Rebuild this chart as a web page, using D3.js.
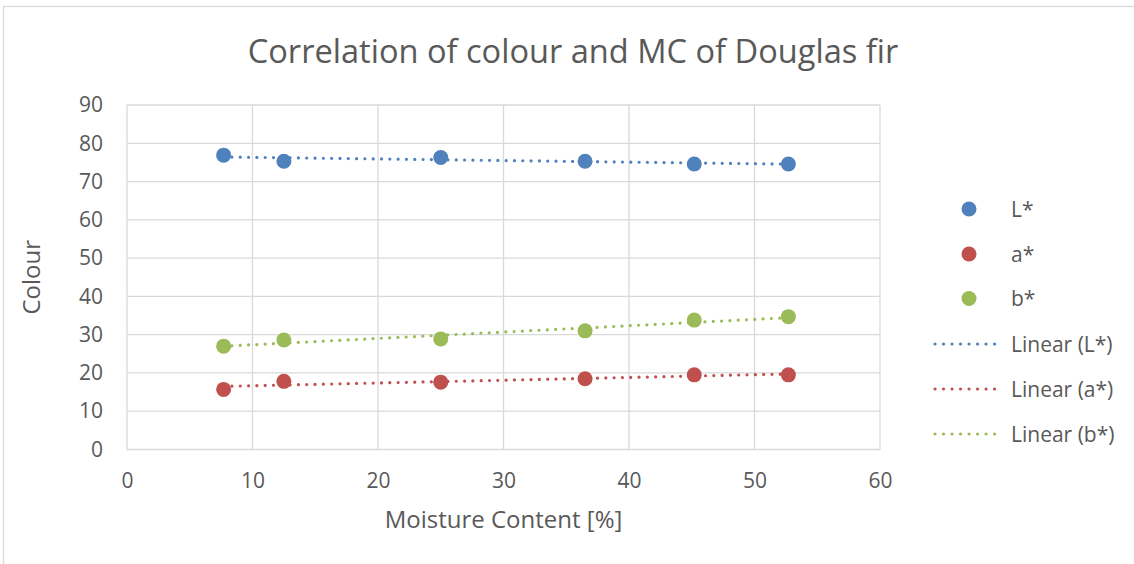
<!DOCTYPE html>
<html>
<head>
<meta charset="utf-8">
<script src="https://cdn.jsdelivr.net/npm/d3@7"></script>
<style>
  html, body { margin: 0; padding: 0; background: #fff; }
  svg { display: block; font-family: "Open Sans", Lato, sans-serif; }
</style>
</head>
<body>
<svg id="chart" width="1134" height="564"></svg>
<script>
// Moisture content [%] of each sample
const moisture = [7.7, 12.5, 25.0, 36.5, 45.2, 52.7];
// CIELAB colour coordinates per sample
const lValues = [76.9, 75.3, 76.3, 75.3, 74.6, 74.6];
const aValues = [15.7, 17.8, 17.6, 18.5, 19.5, 19.5];
const bValues = [27.0, 28.6, 28.9, 31.0, 33.8, 34.7];
const seriesNames = ["L*", "a*", "b*"];
const seriesColors = ["#4f81bd", "#c0504d", "#9bbb59"];
const xTicks = [0, 10, 20, 30, 40, 50, 60];
const yTicks = [0, 10, 20, 30, 40, 50, 60, 70, 80, 90];

const series = [lValues, aValues, bValues].map((vals, i) => ({
  name: seriesNames[i],
  color: seriesColors[i],
  points: vals.map((v, j) => ({ x: moisture[j], y: v }))
}));

const svg = d3.select("#chart");
const textColor = "#595959";
const gridColor = "#d9d9d9";
const font = "'Open Sans', Lato, sans-serif";

// chart frame
svg.append("rect")
  .attr("x", 3.5).attr("y", 6.5)
  .attr("width", 1140).attr("height", 570)
  .attr("fill", "#fff").attr("stroke", gridColor).attr("stroke-width", 1.3);

const plot = { left: 127, right: 880, top: 105, bottom: 449.5 };
const x = d3.scaleLinear().domain([0, 60]).range([plot.left, plot.right]);
const y = d3.scaleLinear().domain([0, 90]).range([plot.bottom, plot.top]);

// gridlines
const grid = svg.append("g");
grid.selectAll("line.h").data(yTicks).join("line")
  .attr("x1", plot.left).attr("x2", plot.right)
  .attr("y1", d => y(d)).attr("y2", d => y(d))
  .attr("stroke", gridColor).attr("stroke-width", 1.3);
grid.selectAll("line.v").data(xTicks).join("line")
  .attr("y1", plot.top).attr("y2", plot.bottom)
  .attr("x1", d => x(d)).attr("x2", d => x(d))
  .attr("stroke", gridColor).attr("stroke-width", 1.3);

// axes with labels only
const xAxis = svg.append("g")
  .attr("transform", `translate(0,${plot.bottom})`)
  .call(d3.axisBottom(x).tickValues(xTicks).tickSize(0).tickPadding(24));
const yAxis = svg.append("g")
  .attr("transform", `translate(${plot.left},0)`)
  .call(d3.axisLeft(y).tickValues(yTicks).tickSize(0).tickPadding(24));
[xAxis, yAxis].forEach(a => {
  a.select(".domain").remove();
  a.selectAll("text")
    .attr("fill", textColor)
    .style("font-size", "21px")
    .style("font-family", font);
});

// linear regression trend lines
function fit(pts) {
  const mx = d3.mean(pts, p => p.x), my = d3.mean(pts, p => p.y);
  const sxy = d3.sum(pts, p => (p.x - mx) * (p.y - my));
  const sxx = d3.sum(pts, p => (p.x - mx) ** 2);
  const slope = sxy / sxx;
  return { slope, intercept: my - slope * mx };
}
const line = d3.line().x(d => x(d.x)).y(d => y(d.y));
series.forEach(s => {
  const f = fit(s.points);
  const [x0, x1] = d3.extent(s.points, p => p.x);
  svg.append("path")
    .datum([{ x: x0, y: f.intercept + f.slope * x0 }, { x: x1, y: f.intercept + f.slope * x1 }])
    .attr("d", line)
    .attr("fill", "none")
    .attr("stroke", s.color)
    .attr("stroke-width", 3.2)
    .attr("stroke-linecap", "round")
    .attr("stroke-dasharray", "0.01 8.3");
});

// data markers
series.forEach(s => {
  svg.append("g").selectAll("circle").data(s.points).join("circle")
    .attr("cx", d => x(d.x)).attr("cy", d => y(d.y))
    .attr("r", 7.5)
    .attr("fill", s.color);
});

// title
svg.append("text")
  .attr("x", 573).attr("y", 63)
  .attr("text-anchor", "middle")
  .attr("fill", textColor)
  .style("font-size", "32.6px")
  .text("Correlation of colour and MC of Douglas fir");

// axis titles
svg.append("text")
  .attr("x", (plot.left + plot.right) / 2).attr("y", 528)
  .attr("text-anchor", "middle")
  .attr("fill", textColor)
  .style("font-size", "24px")
  .text("Moisture Content [%]");
svg.append("text")
  .attr("transform", `translate(40,${(plot.top + plot.bottom) / 2}) rotate(-90)`)
  .attr("text-anchor", "middle")
  .attr("fill", textColor)
  .style("font-size", "24px")
  .text("Colour");

// legend
const legend = svg.append("g");
const markerRows = [209, 254, 298.5];
const lineRows = [344, 389, 434];
series.forEach((s, i) => {
  legend.append("circle")
    .attr("cx", 969).attr("cy", markerRows[i]).attr("r", 7.5)
    .attr("fill", s.color);
  legend.append("text")
    .attr("x", 1011).attr("y", markerRows[i] + 7.5)
    .attr("fill", textColor).style("font-size", "21px")
    .text(s.name);
});
series.forEach((s, i) => {
  legend.append("line")
    .attr("x1", 935).attr("x2", 1003)
    .attr("y1", lineRows[i]).attr("y2", lineRows[i])
    .attr("stroke", s.color)
    .attr("stroke-width", 3.2)
    .attr("stroke-linecap", "round")
    .attr("stroke-dasharray", "0.01 8.5");
  legend.append("text")
    .attr("x", 1011).attr("y", lineRows[i] + 7.5)
    .attr("fill", textColor).style("font-size", "21px")
    .text(`Linear (${s.name})`);
});
</script>
</body>
</html>
